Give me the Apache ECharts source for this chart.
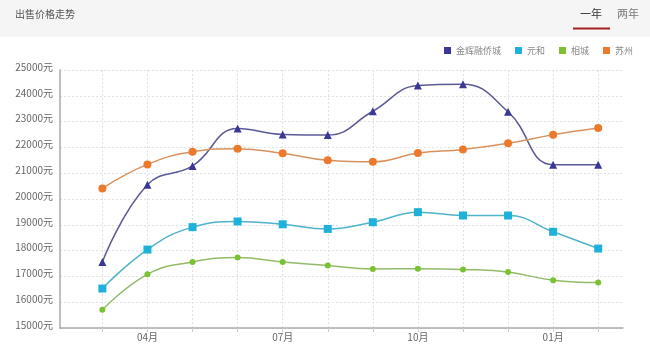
<!DOCTYPE html>
<html>
<head>
<meta charset="utf-8">
<title>出售价格走势</title>
<script src="https://cdn.jsdelivr.net/npm/echarts@6/dist/echarts.min.js"></script>
<style>
  html, body { margin: 0; padding: 0; background: #fff; }
  #chart { width: 650px; height: 349px; }
</style>
</head>
<body>
<div id="chart"></div>
<script>
// Months on the horizontal axis (one year of listings)
const months = ['03月', '04月', '05月', '06月', '07月', '08月', '09月', '10月', '11月', '12月', '01月', '02月'];
// Month positions that carry a label
const labelledMonths = [1, 4, 7, 10];

// Average asking price, 元/㎡
const jinhuiRongqiao = [17560, 20550, 21280, 22730, 22500, 22480, 23400, 24400, 24450, 23380, 21330, 21330];
const yuanhe = [16530, 18040, 18910, 19130, 19020, 18840, 19100, 19490, 19360, 19360, 18730, 18080];
const xiangcheng = [15710, 17080, 17560, 17730, 17560, 17420, 17290, 17300, 17270, 17170, 16850, 16760];
const suzhou = [20410, 21340, 21830, 21950, 21770, 21500, 21440, 21780, 21920, 22160, 22490, 22750];

const seriesNames = ['金辉融侨城', '元和', '相城', '苏州'];
const seriesValues = [jinhuiRongqiao, yuanhe, xiangcheng, suzhou];

// Price axis
const priceMin = 15000;
const priceMax = 25000;
const priceStep = 1000;

const FONT = '"Noto Sans CJK SC", "Noto Sans", sans-serif';

const styles = [
  { marker: '#3a3796', line: '#5b5996', symbol: 'triangle', size: 8 },
  { marker: '#1eb1da', line: '#4fb3c9', symbol: 'rect', size: 8 },
  { marker: '#79c232', line: '#93bb6a', symbol: 'circle', size: 6 },
  { marker: '#ec7a2c', line: '#d9925e', symbol: 'circle', size: 8 }
];

const monthIndex = months.map((m, i) => i);

const chart = echarts.init(document.getElementById('chart'), null, { renderer: 'canvas' });

chart.setOption({
  animation: false,
  textStyle: { fontFamily: FONT },
  graphic: [
    { type: 'rect', left: 0, top: 0, shape: { width: 650, height: 37 }, style: { fill: '#f5f5f5' }, silent: true },
    { type: 'text', left: 15, top: 9, style: { text: '出售价格走势', fontSize: 10, fill: '#555', fontFamily: FONT } },
    { type: 'text', left: 580, top: 8, style: { text: '一年', fontSize: 11, fill: '#333', fontFamily: FONT } },
    { type: 'text', left: 617, top: 8, style: { text: '两年', fontSize: 11, fill: '#777', fontFamily: FONT } },
    { type: 'rect', left: 573, top: 27.5, shape: { width: 37, height: 2 }, style: { fill: '#a3201f' }, silent: true }
  ],
  legend: {
    top: 41,
    right: 12,
    itemWidth: 7,
    itemHeight: 7,
    itemGap: 14,
    icon: 'rect',
    textStyle: { fontSize: 9, color: '#888', fontFamily: FONT },
    data: seriesNames.map((n, i) => ({ name: n, itemStyle: { color: styles[i].marker } }))
  },
  grid: { left: 60, right: 27, top: 70, bottom: 21, containLabel: false },
  xAxis: {
    type: 'value',
    min: -0.94,
    max: 11.55,
    axisLine: { onZero: false, lineStyle: { color: '#aaa', width: 1.5 } },
    axisTick: { show: true, length: 4, customValues: monthIndex, lineStyle: { color: '#ccc' } },
    axisLabel: {
      customValues: labelledMonths,
      formatter: v => months[Math.round(v)],
      fontSize: 10,
      color: '#666',
      margin: 4,
      fontFamily: FONT
    },
    splitLine: { show: true, lineStyle: { color: '#e2e2e2', type: [2, 2] } }
  },
  yAxis: {
    type: 'value',
    min: priceMin,
    max: priceMax,
    interval: priceStep,
    axisLine: { show: true, onZero: false, lineStyle: { color: '#aaa', width: 1.5 } },
    axisTick: { show: false },
    axisLabel: {
      formatter: v => v + '元',
      fontSize: 10,
      color: '#666',
      margin: 7,
      verticalAlign: 'bottom',
      lineHeight: 6,
      fontFamily: FONT
    },
    splitLine: { show: true, lineStyle: { color: '#e2e2e2', type: [2, 2] } }
  },
  series: seriesValues.map((vals, i) => ({
    name: seriesNames[i],
    type: 'line',
    smooth: 0.45,
    data: vals.map((v, k) => [k, v]),
    symbol: styles[i].symbol,
    symbolSize: styles[i].size,
    showSymbol: true,
    color: styles[i].marker,
    itemStyle: { color: styles[i].marker },
    lineStyle: { color: styles[i].line, width: 1.5 },
    z: 2 + i
  }))
});
</script>
</body>
</html>
